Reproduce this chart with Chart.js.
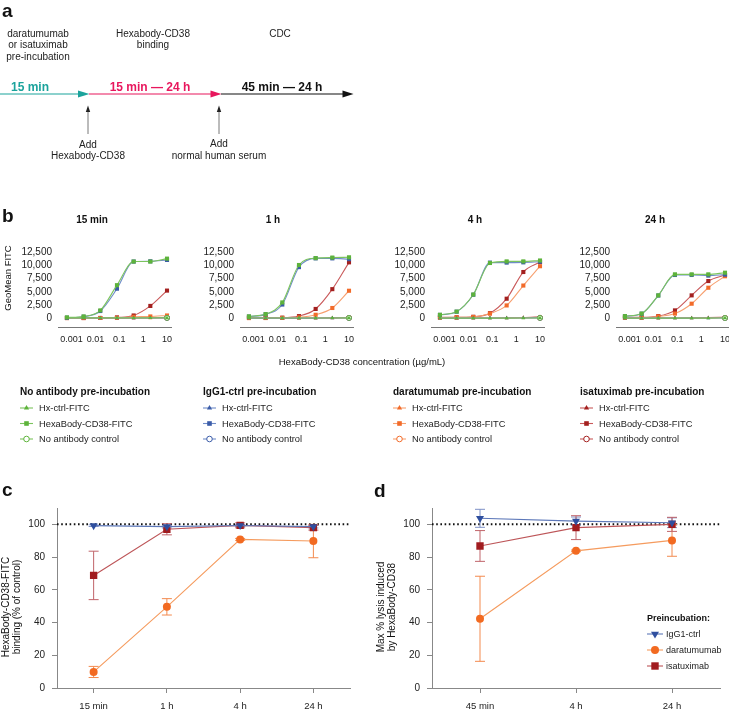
<!DOCTYPE html>
<html>
<head>
<meta charset="utf-8">
<title>HexaBody-CD38 binding and CDC</title>
<script src="https://cdn.jsdelivr.net/npm/chart.js@4.4.1/dist/chart.umd.min.js"></script>
<style>
  html, body { margin: 0; padding: 0; background: #fff; overflow: hidden; }
  #page { position: relative; width: 729px; height: 711px; overflow: hidden; }
  #page canvas { position: absolute; }
  #overlay { position: absolute; left: 0; top: 0; font-family: "Liberation Sans", Arial, sans-serif; }
</style>
</head>
<body>
<div id="page">
  <canvas id="b0"></canvas>
  <canvas id="b1"></canvas>
  <canvas id="b2"></canvas>
  <canvas id="b3"></canvas>
  <canvas id="cChart"></canvas>
  <canvas id="dChart"></canvas>
  <svg id="overlay" width="729" height="711" fill="#111">
    <!-- panel a: timeline -->
    <text x="2" y="17" font-size="19" font-weight="bold">a</text>
    <g font-size="10" text-anchor="middle" dominant-baseline="central" fill="#222">
      <text x="38" y="33">daratumumab</text>
      <text x="38" y="44.5">or isatuximab</text>
      <text x="38" y="56">pre-incubation</text>
      <text x="153" y="33">Hexabody-CD38</text>
      <text x="153" y="44.5">binding</text>
      <text x="280" y="33">CDC</text>
      <text x="88" y="144">Add</text>
      <text x="88" y="155.5">Hexabody-CD38</text>
      <text x="219" y="143">Add</text>
      <text x="219" y="155">normal human serum</text>
    </g>
    <g font-size="12" font-weight="bold" text-anchor="middle" dominant-baseline="central">
      <text x="30" y="87" fill="#1ba39c">15 min</text>
      <text x="150" y="87" fill="#e8175d">15 min — 24 h</text>
      <text x="282" y="87" fill="#111">45 min — 24 h</text>
    </g>
    <line x1="0" y1="94" x2="80" y2="94" stroke="#1ba39c" stroke-width="1.2"/>
    <polygon points="78,90.5 89.5,94 78,97.5" fill="#1ba39c"/>
    <line x1="89" y1="94" x2="212" y2="94" stroke="#e8175d" stroke-width="1.2"/>
    <polygon points="210.5,90.5 221.5,94 210.5,97.5" fill="#e8175d"/>
    <line x1="221" y1="94" x2="344" y2="94" stroke="#111" stroke-width="1.2"/>
    <polygon points="342.5,90.5 353.5,94 342.5,97.5" fill="#111"/>
    <line x1="88" y1="134" x2="88" y2="111" stroke="#555" stroke-width="0.8"/>
    <polygon points="85.8,112 88,105.5 90.2,112" fill="#222"/>
    <line x1="219" y1="134" x2="219" y2="111" stroke="#555" stroke-width="0.8"/>
    <polygon points="216.8,112 219,105.5 221.2,112" fill="#222"/>

    <!-- panel labels and shared texts -->
    <text x="2" y="222" font-size="19" font-weight="bold">b</text>
    <text x="2" y="496" font-size="19" font-weight="bold">c</text>
    <text x="374" y="497" font-size="19" font-weight="bold">d</text>
    <text transform="translate(7,278) rotate(-90)" font-size="9.5" text-anchor="middle" dominant-baseline="central">GeoMean FITC</text>
    <text x="362" y="361" font-size="9.5" text-anchor="middle" dominant-baseline="central">HexaBody-CD38 concentration (µg/mL)</text>
    <g transform="translate(11,607) rotate(-90)" font-size="10" text-anchor="middle" dominant-baseline="central">
      <text x="0" y="-5.5">HexaBody-CD38-FITC</text>
      <text x="0" y="5.5">binding (% of control)</text>
    </g>
    <g transform="translate(385.5,607) rotate(-90)" font-size="10" text-anchor="middle" dominant-baseline="central">
      <text x="0" y="-5.5">Max % lysis induced</text>
      <text x="0" y="5.5">by HexaBody-CD38</text>
    </g>
  </svg>
</div>

<script>
// ---- data ----
const conc = [0.00064, 0.0032, 0.016, 0.08, 0.4, 2, 10];
const concTicks = [0.001, 0.01, 0.1, 1, 10];
const geoTicks = [0, 2500, 5000, 7500, 10000, 12500];
const bTimes = ['15 min', '1 h', '4 h', '24 h'];
const preinc = ['No antibody', 'IgG1-ctrl', 'daratumumab', 'isatuximab'];
const bLegendRows = ['Hx-ctrl-FITC', 'HexaBody-CD38-FITC', 'No antibody control'];

// rows: no antibody, IgG1-ctrl, daratumumab, isatuximab
const hexa15min = [
  [180, 360, 1500, 6250, 10700, 10700, 11250],
  [120, 300, 1380, 5590, 10700, 10750, 11000],
  [60, 60, 70, 90, 300, 360, 540],
  [60, 60, 70, 180, 540, 2340, 5230]
];
const hexa1h = [
  [370, 800, 3000, 10050, 11350, 11450, 11500],
  [330, 750, 2600, 9650, 11300, 11300, 11150],
  [50, 60, 80, 180, 670, 1950, 5200],
  [120, 120, 130, 420, 1770, 5500, 10550]
];
const hexa4h = [
  [670, 1270, 4490, 10430, 10730, 10730, 10900],
  [650, 1250, 4450, 10500, 10500, 10550, 10670],
  [150, 180, 250, 900, 2430, 6180, 9820],
  [200, 200, 300, 970, 3700, 8730, 10600]
];
const hexa24h = [
  [420, 900, 4330, 8290, 8290, 8290, 8600],
  [400, 880, 4300, 8170, 8170, 8050, 8230],
  [120, 120, 360, 900, 2760, 5770, 7930],
  [180, 180, 420, 1500, 4330, 7030, 8170]
];
const hx15min = [
  [80, 80, 80, 80, 80, 90, 100],
  [60, 60, 60, 60, 60, 70, 80],
  [40, 40, 40, 40, 50, 60, 70],
  [50, 50, 50, 50, 60, 80, 110]
];
const hx1h = [
  [60, 60, 60, 60, 60, 70, 80],
  [50, 50, 50, 50, 50, 60, 70],
  [40, 40, 40, 40, 50, 60, 70],
  [50, 50, 50, 50, 60, 80, 120]
];
const hx4h = [
  [50, 50, 50, 50, 50, 60, 80],
  [50, 50, 50, 50, 60, 70, 90],
  [40, 40, 40, 50, 60, 90, 150],
  [50, 50, 60, 70, 90, 150, 300]
];
const hx24h = [
  [40, 40, 40, 40, 40, 50, 70],
  [40, 40, 40, 40, 50, 60, 80],
  [40, 40, 40, 50, 60, 80, 120],
  [50, 50, 60, 70, 90, 130, 220]
];
const noAb15min = [90, 80, 100, 110];
const noAb1h = [80, 70, 90, 100];
const noAb4h = [90, 80, 100, 110];
const noAb24h = [70, 60, 80, 90];

const cTimes = ['15 min', '1 h', '4 h', '24 h'];
const cIgg = [99.2, 98.6, 99.3, 98.6];
const cIggErr = [0.5, 0.8, 0.6, 0.8];
const cDara = [9.8, 49.6, 90.8, 89.8];
const cDaraErr = [3.4, 5, 0.6, 10.2];
const cIsa = [68.8, 97, 99.4, 98];
const cIsaErr = [14.8, 3.4, 1.5, 1.5];

const dTimes = ['45 min', '4 h', '24 h'];
const dIgg = [103.7, 102, 101];
const dIggErr = [5.5, 2.5, 3];
const dDara = [42.3, 83.8, 90.2];
const dDaraErr = [26, 0.5, 9.7];
const dIsa = [86.8, 98, 100];
const dIsaErr = [9.4, 7.3, 4.3];
const refValue = 100;

// ---- styles ----
const groupColors = ['#5db33b', '#3b5ca8', '#f26b2a', '#a3201f'];
const curveColors = ['#7cc45e', '#6f8cc8', '#f7a070', '#c9595a'];
const seriesColors = ['#2f4f9f', '#f26a21', '#a11c1f'];
const seriesLines = ['#5d78b9', '#f59b5e', '#bd5558'];
const seriesErr = ['#7e90c6', '#f38a4e', '#c0646a'];
const FONT = '"Liberation Sans", Arial, sans-serif';
Chart.defaults.font.family = FONT;
Chart.defaults.color = '#222';

const overlay = document.getElementById('overlay');
const SVGNS = 'http://www.w3.org/2000/svg';
function svgEl(tag, attrs, text) {
  const el = document.createElementNS(SVGNS, tag);
  for (const k in attrs) el.setAttribute(k, attrs[k]);
  if (text) el.textContent = text;
  overlay.appendChild(el);
  return el;
}
function svgMarker(style, x, y, r, color) {
  if (style === 'rect') {
    svgEl('rect', {x: x - r, y: y - r, width: 2 * r, height: 2 * r, fill: color});
  } else if (style === 'triangle') {
    svgEl('polygon', {points: `${x},${y - r} ${x + r * 0.87},${y + r * 0.5} ${x - r * 0.87},${y + r * 0.5}`, fill: color});
  } else if (style === 'triangleDown') {
    svgEl('polygon', {points: `${x},${y + r} ${x + r * 0.87},${y - r * 0.5} ${x - r * 0.87},${y - r * 0.5}`, fill: color});
  } else if (style === 'circleOpen') {
    svgEl('circle', {cx: x, cy: y, r: r, fill: '#fff', stroke: color, 'stroke-width': 1});
  } else {
    svgEl('circle', {cx: x, cy: y, r: r, fill: color});
  }
}

function place(id, left, top, w, h) {
  const cv = document.getElementById(id);
  cv.width = w; cv.height = h;
  cv.style.left = left + 'px'; cv.style.top = top + 'px';
  cv.style.width = w + 'px'; cv.style.height = h + 'px';
  return cv;
}

// ---- plugins ----
const errorBars = {
  id: 'errorBars',
  beforeDatasetsDraw(chart) {
    const {ctx, scales: {y}} = chart;
    chart.data.datasets.forEach((ds, i) => {
      if (!ds.err) return;
      const meta = chart.getDatasetMeta(i);
      ctx.save();
      ctx.strokeStyle = ds.errColor;
      ctx.lineWidth = 1;
      meta.data.forEach((pt, j) => {
        const e = ds.err[j];
        const top = y.getPixelForValue(ds.data[j] + e);
        const bot = y.getPixelForValue(ds.data[j] - e);
        ctx.beginPath();
        ctx.moveTo(pt.x, top); ctx.lineTo(pt.x, bot);
        ctx.moveTo(pt.x - 5, top); ctx.lineTo(pt.x + 5, top);
        ctx.moveTo(pt.x - 5, bot); ctx.lineTo(pt.x + 5, bot);
        ctx.stroke();
      });
      ctx.restore();
    });
  }
};
const refLine = {
  id: 'refLine',
  beforeDatasetsDraw(chart) {
    const {ctx, chartArea, scales: {y}} = chart;
    const py = y.getPixelForValue(refValue);
    ctx.save();
    ctx.strokeStyle = '#111';
    ctx.lineWidth = 2;
    ctx.setLineDash([1.6, 2.6]);
    ctx.beginPath();
    ctx.moveTo(chartArea.left, py);
    ctx.lineTo(chartArea.right, py);
    ctx.stroke();
    ctx.restore();
  }
};

// ---- panel b ----
function bChart(id, areaLeft, hexa, hx, noAb) {
  const yW = 48, padR = 12, areaW = 113;
  const cv = place(id, areaLeft - yW, 240, yW + areaW + padR, 110);
  const datasets = [];
  preinc.forEach((g, i) => {
    datasets.push({
      label: g + ' HexaBody-CD38-FITC',
      data: conc.map((c, j) => ({x: c, y: hexa[i][j]})),
      borderColor: curveColors[i], borderWidth: 1.1,
      pointStyle: 'rect', pointRadius: 2.9, pointBackgroundColor: groupColors[i], pointBorderWidth: 0,
      cubicInterpolationMode: 'monotone'
    });
    datasets.push({
      label: g + ' Hx-ctrl-FITC',
      data: conc.map((c, j) => ({x: c, y: hx[i][j]})),
      borderColor: curveColors[i], borderWidth: 1.1,
      pointStyle: 'triangle', pointRadius: 2.2, pointBackgroundColor: groupColors[i], pointBorderWidth: 0,
      cubicInterpolationMode: 'monotone'
    });
    datasets.push({
      label: g + ' No antibody control',
      data: [{x: conc[conc.length - 1], y: noAb[i]}],
      showLine: false,
      pointStyle: 'circle', pointRadius: 2.4, pointBackgroundColor: '#fff',
      pointBorderColor: groupColors[i], pointBorderWidth: 1
    });
  });
  new Chart(cv.getContext('2d'), {
    type: 'line',
    data: {datasets},
    options: {
      responsive: false, animation: false, devicePixelRatio: 1, events: [],
      layout: {padding: {top: 9, right: padR, left: 0, bottom: 0}},
      plugins: {legend: {display: false}, tooltip: {enabled: false}},
      scales: {
        x: {
          type: 'logarithmic', min: 0.00027, max: 14.7,
          afterBuildTicks: s => { s.ticks = concTicks.map(v => ({value: v})); },
          afterFit: s => { s.height = 23; },
          ticks: {callback: v => String(v), font: {size: 9}, padding: 7, maxRotation: 0, autoSkip: false},
          grid: {display: false, drawTicks: false},
          border: {display: true, color: '#777', width: 1}
        },
        y: {
          min: -1630, max: 12500,
          afterBuildTicks: s => { s.ticks = geoTicks.map(v => ({value: v})); },
          afterFit: s => { s.width = yW; },
          ticks: {callback: v => v.toLocaleString('en-US'), font: {size: 10}, padding: 6},
          grid: {display: false, drawTicks: false},
          border: {display: false}
        }
      }
    }
  });
}
bChart('b0', 58, hexa15min, hx15min, noAb15min);
bChart('b1', 240, hexa1h, hx1h, noAb1h);
bChart('b2', 431, hexa4h, hx4h, noAb4h);
bChart('b3', 616, hexa24h, hx24h, noAb24h);

[92, 273, 475, 655].forEach((x, i) => {
  svgEl('text', {x, y: 219, 'font-size': 10, 'font-weight': 'bold', 'text-anchor': 'middle', 'dominant-baseline': 'central'}, bTimes[i]);
});

// legend for b
const legendX = [20, 203, 393, 580];
const legendStyles = ['triangle', 'rect', 'circleOpen'];
const legendSizes = [3, 2.3, 2.8];
const legendY = [408, 423.5, 439];
preinc.forEach((g, i) => {
  const x = legendX[i];
  svgEl('text', {x, y: 391, 'font-size': 10, 'font-weight': 'bold', 'dominant-baseline': 'central'}, g + ' pre-incubation');
  bLegendRows.forEach((r, k) => {
    const y = legendY[k];
    svgEl('line', {x1: x, y1: y, x2: x + 13, y2: y, stroke: curveColors[i], 'stroke-width': 1.1});
    svgMarker(legendStyles[k], x + 6.5, y, legendSizes[k], groupColors[i]);
    svgEl('text', {x: x + 19, y, 'font-size': 9.3, 'dominant-baseline': 'central', fill: '#222'}, r);
  });
});

// ---- panels c and d ----
function seriesSet(data, errs) {
  const styles = [
    {pointStyle: 'triangle', pointRotation: 180, pointRadius: 4.6},
    {pointStyle: 'circle', pointRotation: 0, pointRadius: 4},
    {pointStyle: 'rect', pointRotation: 0, pointRadius: 5.2}
  ];
  const labels = ['IgG1-ctrl', 'daratumumab', 'isatuximab'];
  return data.map((d, i) => Object.assign({
    label: labels[i], data: d, err: errs[i], errColor: seriesErr[i],
    borderColor: seriesLines[i], borderWidth: 1.1,
    pointBackgroundColor: seriesColors[i], pointBorderWidth: 0
  }, styles[i]));
}

function timeChart(id, left, yW, padR, labels, datasets) {
  const cv = place(id, left, 470, left === 0 ? 360 : 359, 241);
  new Chart(cv.getContext('2d'), {
    type: 'line',
    data: {labels, datasets},
    plugins: [refLine, errorBars],
    options: {
      responsive: false, animation: false, devicePixelRatio: 1, events: [],
      layout: {padding: {top: 38, right: padR, left: 0, bottom: 0}},
      plugins: {legend: {display: false}, tooltip: {enabled: false}},
      scales: {
        x: {
          type: 'category', offset: true,
          afterFit: s => { s.height = 23; },
          ticks: {font: {size: 9.5}, padding: 8, maxRotation: 0},
          grid: {display: true, drawOnChartArea: false, offset: false, tickLength: 5, color: '#888'},
          border: {color: '#888', width: 1}
        },
        y: {
          min: 0, max: 110,
          afterBuildTicks: s => { s.ticks = [0, 20, 40, 60, 80, 100].map(v => ({value: v})); },
          afterFit: s => { s.width = yW; },
          ticks: {font: {size: 10}, padding: 7},
          grid: {display: true, drawOnChartArea: false, tickLength: 5, color: '#888'},
          border: {color: '#888', width: 1}
        }
      }
    }
  });
}
timeChart('cChart', 0, 57, 10, cTimes, seriesSet([cIgg, cDara, cIsa], [cIggErr, cDaraErr, cIsaErr]));
timeChart('dChart', 370, 62, 9, dTimes, seriesSet([dIgg, dDara, dIsa], [dIggErr, dDaraErr, dIsaErr]));

// legend for d
svgEl('text', {x: 647, y: 618, 'font-size': 9, 'font-weight': 'bold', 'dominant-baseline': 'central'}, 'Preincubation:');
const dLegendStyles = ['triangleDown', 'circle', 'rect'];
const dLegendSizes = [4.6, 4, 3.7];
['IgG1-ctrl', 'daratumumab', 'isatuximab'].forEach((name, i) => {
  const y = 634 + i * 16;
  svgEl('line', {x1: 647, y1: y, x2: 663, y2: y, stroke: seriesLines[i], 'stroke-width': 1.1});
  svgMarker(dLegendStyles[i], 655, y, dLegendSizes[i], seriesColors[i]);
  svgEl('text', {x: 666, y, 'font-size': 9, 'dominant-baseline': 'central', fill: '#222'}, name);
});
</script>
</body>
</html>
